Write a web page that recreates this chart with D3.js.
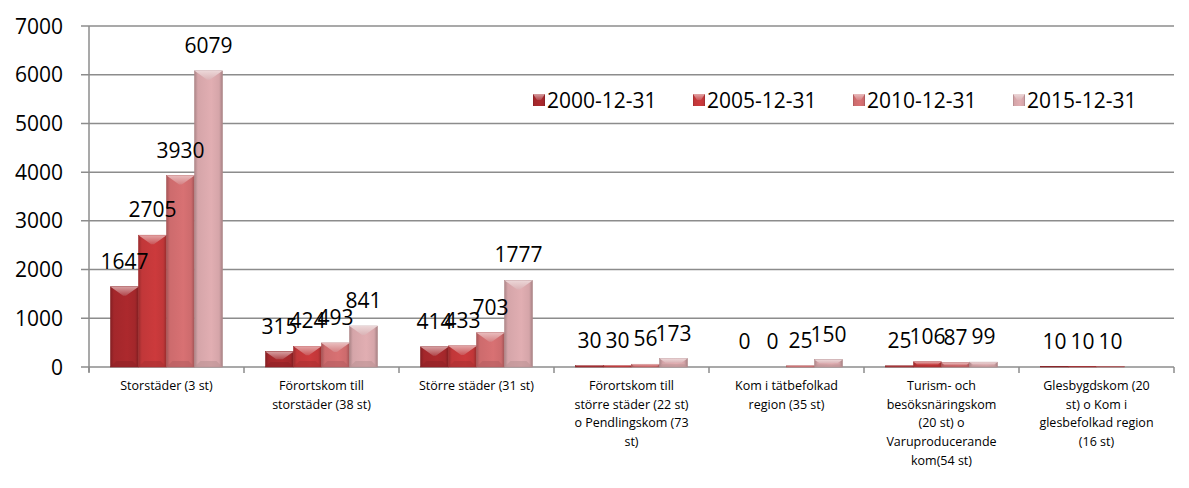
<!DOCTYPE html>
<html>
<head>
<meta charset="utf-8">
<script src="https://cdn.jsdelivr.net/npm/d3@7"></script>
<style>
  html, body { margin: 0; padding: 0; background: #fff; }
  svg { display: block; font-family: "Open Sans", "Noto Sans", sans-serif; }
</style>
</head>
<body>
<svg id="chart" width="1189" height="488"></svg>
<script>
// Categories (kommungrupper), each wrapped into its printed lines
const categories = [
  ["Storstäder (3 st)"],
  ["Förortskom till", "storstäder (38 st)"],
  ["Större städer (31 st)"],
  ["Förortskom till", "större städer (22 st)", "o Pendlingskom (73", "st)"],
  ["Kom i tätbefolkad", "region (35 st)"],
  ["Turism- och", "besöksnäringskom", "(20 st) o", "Varuproducerande", "kom(54 st)"],
  ["Glesbygdskom (20", "st) o Kom i", "glesbefolkad region", "(16 st)"]
];
const seriesNames = ["2000-12-31", "2005-12-31", "2010-12-31", "2015-12-31"];
const s2000 = [1647, 315, 414, 30, 0, 25, 10];
const s2005 = [2705, 424, 433, 30, 0, 106, 10];
const s2010 = [3930, 493, 703, 56, 25, 87, 10];
const s2015 = [6079, 841, 1777, 173, 150, 99, null];
const yTicks = [0, 1000, 2000, 3000, 4000, 5000, 6000, 7000];

const seriesValues = [s2000, s2005, s2010, s2015];
const baseColors = ["#a3272b", "#c13739", "#cd6b6d", "#d5a5a9"];

const svg = d3.select("#chart");
const plotLeft = 89, plotRight = 1174, plotTop = 26, plotBottom = 367;

const x = d3.scaleBand().domain(d3.range(categories.length)).range([plotLeft, plotRight]).padding(0);
const xs = d3.scaleBand().domain(d3.range(seriesNames.length))
  .range([21.5, x.bandwidth() - 21.5]).padding(0);
const y = d3.scaleLinear().domain([0, 7000]).range([plotBottom, plotTop]);

// Gradients giving the bevelled column look
const defs = svg.append("defs");
baseColors.forEach((c, i) => {
  const base = d3.color(c);
  const g = defs.append("linearGradient").attr("id", "body" + i)
    .attr("x1", 0).attr("x2", 1).attr("y1", 0).attr("y2", 0);
  g.append("stop").attr("offset", "0%").attr("stop-color", base.darker(0.6));
  g.append("stop").attr("offset", "12%").attr("stop-color", base);
  g.append("stop").attr("offset", "60%").attr("stop-color", base.brighter(0.15));
  g.append("stop").attr("offset", "88%").attr("stop-color", base);
  g.append("stop").attr("offset", "100%").attr("stop-color", base.darker(0.7));
  const t = defs.append("linearGradient").attr("id", "topb" + i)
    .attr("x1", 0).attr("x2", 0).attr("y1", 0).attr("y2", 1);
  t.append("stop").attr("offset", "0%").attr("stop-color", d3.interpolateRgb(c, "#fff")(0.55));
  t.append("stop").attr("offset", "100%").attr("stop-color", d3.interpolateRgb(c, "#fff")(0.15));
});

// Gridlines
svg.append("g").selectAll("line").data(yTicks).join("line")
  .attr("x1", plotLeft - 8).attr("x2", plotRight)
  .attr("y1", d => y(d)).attr("y2", d => y(d))
  .attr("stroke", "#8c8c8c").attr("stroke-width", 1.5);

// Y axis labels
svg.append("g").selectAll("text").data(yTicks).join("text")
  .attr("x", 63).attr("y", d => y(d)).attr("dy", "0.36em")
  .attr("text-anchor", "end").attr("font-size", 21).attr("fill", "#000")
  .text(d => d);

// Axis lines and category tick marks
svg.append("line").attr("x1", plotLeft).attr("x2", plotLeft).attr("y1", plotTop).attr("y2", plotBottom + 5)
  .attr("stroke", "#8c8c8c").attr("stroke-width", 1.5);
svg.append("g").selectAll("line").data(d3.range(categories.length + 1)).join("line")
  .attr("x1", i => plotLeft + i * x.bandwidth()).attr("x2", i => plotLeft + i * x.bandwidth())
  .attr("y1", plotBottom).attr("y2", plotBottom + 6)
  .attr("stroke", "#8c8c8c").attr("stroke-width", 1.5);

// Bars
const barsData = [];
seriesValues.forEach((vals, si) => vals.forEach((v, ci) => {
  if (v !== null) barsData.push({ si, ci, v });
}));

const bars = svg.append("g").selectAll("g").data(barsData).join("g")
  .attr("transform", d => `translate(${x(d.ci) + xs(d.si)},0)`);
const bw = xs.bandwidth();

bars.append("rect")
  .attr("x", 0).attr("width", bw)
  .attr("y", d => y(d.v)).attr("height", d => plotBottom - y(d.v))
  .attr("fill", d => `url(#body${d.si})`)
  .attr("stroke", d => d3.color(baseColors[d.si]).darker(0.5))
  .attr("stroke-width", 0.6);

// top bevel
bars.append("path")
  .attr("d", d => {
    const t = y(d.v), h = plotBottom - t;
    const b = Math.min(9, h / 2);
    if (h < 1) return null;
    return `M0,${t}L${bw},${t}L${bw - b * 1.4},${t + b}L${b * 1.4},${t + b}Z`;
  })
  .attr("fill", d => `url(#topb${d.si})`);

// bottom shading
bars.append("path")
  .attr("d", d => {
    const t = y(d.v), h = plotBottom - t;
    const b = Math.min(6, h / 3);
    if (h < 3) return null;
    return `M0,${plotBottom}L${bw},${plotBottom}L${bw - b},${plotBottom - b}L${b},${plotBottom - b}Z`;
  })
  .attr("fill", d => d3.color(baseColors[d.si]).darker(0.35))
  .attr("opacity", 0.6);

// Data labels
svg.append("g").selectAll("text").data(barsData).join("text")
  .attr("x", d => x(d.ci) + xs(d.si) + bw / 2)
  .attr("y", d => y(d.v) - 18)
  .attr("text-anchor", "middle").attr("font-size", 21).attr("fill", "#000")
  .text(d => d.v);

// Category labels
const catG = svg.append("g").selectAll("text").data(categories).join("text")
  .attr("text-anchor", "middle").attr("font-size", 12.5).attr("fill", "#000");
catG.each(function (lines, i) {
  d3.select(this).selectAll("tspan").data(lines).join("tspan")
    .attr("x", x(i) + x.bandwidth() / 2)
    .attr("y", (d, j) => 390 + j * 18.7)
    .text(d => d);
});

// Legend
const legend = svg.append("g").selectAll("g").data(seriesNames).join("g")
  .attr("transform", (d, i) => `translate(${533 + i * 160},100)`);
legend.append("rect").attr("x", 0).attr("y", -6).attr("width", 12).attr("height", 12)
  .attr("fill", (d, i) => `url(#body${i})`);
legend.append("path").attr("d", "M0,-6L12,-6L8,0L4,0Z")
  .attr("fill", (d, i) => `url(#topb${i})`);
legend.append("text").attr("x", 14).attr("y", 0).attr("dy", "0.36em")
  .attr("font-size", 21).attr("fill", "#000").text(d => d);
</script>
</body>
</html>
